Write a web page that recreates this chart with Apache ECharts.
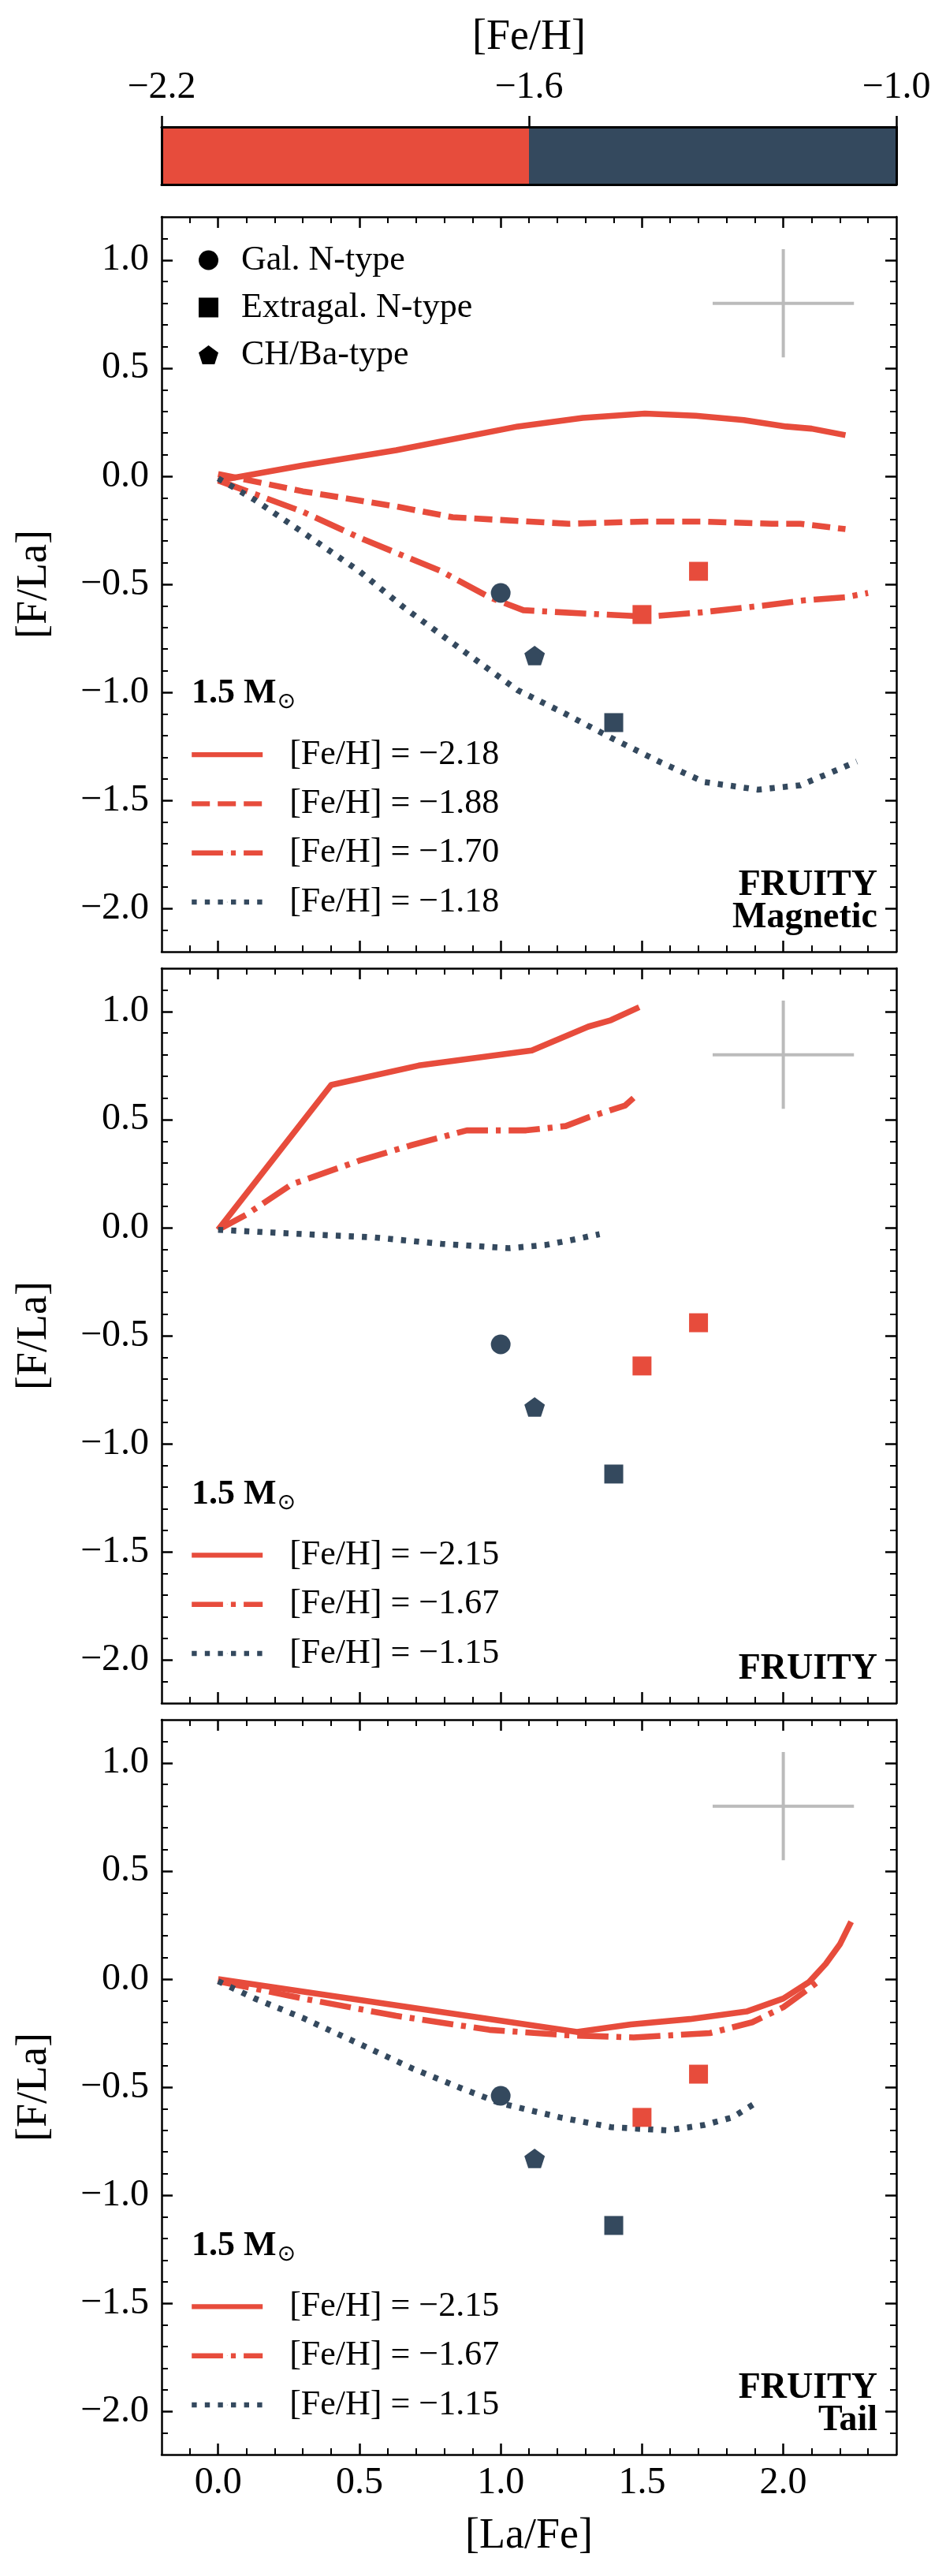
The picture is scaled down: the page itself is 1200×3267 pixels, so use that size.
<!DOCTYPE html>
<html><head><meta charset="utf-8">
<script src="https://cdn.jsdelivr.net/npm/echarts@6/dist/echarts.min.js"></script>
<style>html,body{margin:0;padding:0;background:#fff}#c{width:1200px;height:3267px}</style>
</head><body><div id="c"></div>
<script>
// ================= DATA =================
// colour bar ([Fe/H] bins)
const fehBinEdges = [-2.2, -1.6, -1.0];
const fehBinColors = ['#e74c3c', '#34495e'];
const fehTickLabels = ['\u22122.2', '\u22121.6', '\u22121.0'];

// axis ticks
const xMajorTicks = [0.0, 0.5, 1.0, 1.5, 2.0];
const yMajorTicks = [-2.0, -1.5, -1.0, -0.5, 0.0, 0.5, 1.0];

// Panel 1: FRUITY Magnetic
const mag218X = [0.0, 0.30, 0.63, 1.06, 1.29, 1.51, 1.69, 1.86, 2.01, 2.10, 2.22];
const mag218Y = [-0.02, 0.05, 0.12, 0.23, 0.27, 0.29, 0.28, 0.26, 0.23, 0.22, 0.19];
const mag188X = [0.0, 0.30, 0.63, 0.83, 1.24, 1.51, 1.71, 1.96, 2.06, 2.22];
const mag188Y = [0.01, -0.07, -0.14, -0.19, -0.22, -0.21, -0.21, -0.22, -0.22, -0.245];
const mag170X = [0.0, 0.30, 0.51, 0.79, 0.96, 1.08, 1.29, 1.52, 1.71, 1.92, 2.07, 2.22, 2.30];
const mag170Y = [-0.02, -0.165, -0.29, -0.44, -0.56, -0.62, -0.635, -0.65, -0.63, -0.60, -0.575, -0.56, -0.54];
const mag118X = [0.0, 0.13, 0.30, 0.50, 0.66, 0.88, 1.06, 1.23, 1.39, 1.56, 1.72, 1.91, 2.06, 2.17, 2.26];
const mag118Y = [-0.01, -0.11, -0.26, -0.44, -0.61, -0.82, -0.99, -1.10, -1.21, -1.32, -1.415, -1.45, -1.43, -1.37, -1.32];

// Panel 2: FRUITY
const fru215X = [0.0, 0.40, 0.71, 1.11, 1.31, 1.39, 1.49];
const fru215Y = [-0.01, 0.66, 0.75, 0.82, 0.93, 0.96, 1.02];
const fru167X = [0.0, 0.10, 0.26, 0.50, 0.68, 0.88, 1.09, 1.23, 1.31, 1.44, 1.47];
const fru167Y = [-0.01, 0.06, 0.20, 0.31, 0.38, 0.45, 0.45, 0.47, 0.51, 0.565, 0.60];
const fru115X = [0.0, 0.30, 0.55, 0.79, 1.03, 1.16, 1.26, 1.35];
const fru115Y = [-0.01, -0.03, -0.045, -0.075, -0.095, -0.08, -0.055, -0.03];

// Panel 3: FRUITY Tail
const tail215X = [0.0, 1.27, 1.46, 1.67, 1.87, 2.00, 2.09, 2.15, 2.20, 2.24];
const tail215Y = [0.0, -0.245, -0.21, -0.185, -0.15, -0.09, -0.015, 0.07, 0.16, 0.265];
const tail167X = [0.0, 0.30, 0.63, 0.96, 1.24, 1.47, 1.74, 1.89, 2.00, 2.09, 2.13];
const tail167Y = [-0.01, -0.09, -0.17, -0.235, -0.26, -0.27, -0.25, -0.20, -0.13, -0.045, -0.005];
const tail115X = [0.0, 0.13, 0.30, 0.50, 0.69, 0.86, 1.00, 1.21, 1.39, 1.59, 1.72, 1.82, 1.90];
const tail115Y = [-0.01, -0.09, -0.18, -0.30, -0.415, -0.505, -0.575, -0.64, -0.685, -0.70, -0.675, -0.64, -0.575];

// Observed stars (bin index into fehBinColors)
const galNX = [1.00];  const galNY = [-0.54];  const galNBin = [1];
const extNX = [1.40, 1.50, 1.70]; const extNY = [-1.14, -0.64, -0.44]; const extNBin = [1, 0, 0];
const chBaX = [1.12];  const chBaY = [-0.83];  const chBaBin = [1];

// typical error bar
const errX = [2.0]; const errY = [0.8]; const errDX = [0.25]; const errDY = [0.25];

// labels
const panelTags = ['FRUITY\nMagnetic', 'FRUITY', 'FRUITY\nTail'];
const massLabel = '1.5 M';

// ================= LAYOUT / STYLE =================
const FONT = "'Liberation Serif','DejaVu Serif',serif";
const RED = fehBinColors[0], DARK = fehBinColors[1];
const PL = 205, PW = 932, PH = 932;
const panelTops = [275, 1228, 2181];
const LW = 6.4;        // legend line width
const SLW = 7.6;       // curve line width
const DASH = { solid: 'solid', dashed: [23, 10], dashdot: [39.7, 10, 6.2, 10], dotted: [6.4, 10.2] };

const panelCurves = [
  [
    { name: '[Fe/H] = \u22122.18', x: mag218X, y: mag218Y, color: RED, dash: 'solid' },
    { name: '[Fe/H] = \u22121.88', x: mag188X, y: mag188Y, color: RED, dash: 'dashed' },
    { name: '[Fe/H] = \u22121.70', x: mag170X, y: mag170Y, color: RED, dash: 'dashdot' },
    { name: '[Fe/H] = \u22121.18', x: mag118X, y: mag118Y, color: DARK, dash: 'dotted' }
  ],
  [
    { name: '[Fe/H] = \u22122.15', x: fru215X, y: fru215Y, color: RED, dash: 'solid' },
    { name: '[Fe/H] = \u22121.67', x: fru167X, y: fru167Y, color: RED, dash: 'dashdot' },
    { name: '[Fe/H] = \u22121.15', x: fru115X, y: fru115Y, color: DARK, dash: 'dotted' }
  ],
  [
    { name: '[Fe/H] = \u22122.15', x: tail215X, y: tail215Y, color: RED, dash: 'solid' },
    { name: '[Fe/H] = \u22121.67', x: tail167X, y: tail167Y, color: RED, dash: 'dashdot' },
    { name: '[Fe/H] = \u22121.15', x: tail115X, y: tail115Y, color: DARK, dash: 'dotted' }
  ]
];

const PENTAGON = 'path://M0,-1L0.951,-0.309L0.588,0.809L-0.588,0.809L-0.951,-0.309Z';
const starSets = [
  { name: 'Gal. N-type', x: galNX, y: galNY, bin: galNBin, symbol: 'circle', size: 25, icon: 'circle' },
  { name: 'Extragal. N-type', x: extNX, y: extNY, bin: extNBin, symbol: 'rect', size: 24, icon: 'rect' },
  { name: 'CH/Ba-type', x: chBaX, y: chBaY, bin: chBaBin, symbol: PENTAGON, size: 26, icon: PENTAGON }
];

const xMinorTicks = []; for (let i = -1; i <= 23; i++) if (i % 5 !== 0) xMinorTicks.push(i / 10);
const yMinorTicks = []; for (let i = -21; i <= 11; i++) if (i % 5 !== 0) yMinorTicks.push(i / 10);

const fmt = v => (v < -1e-9 ? '\u2212' : '') + Math.abs(v).toFixed(1);

// text measuring for the subscript placement
const mctx = document.createElement('canvas').getContext('2d');
mctx.font = 'bold 44px ' + FONT;
const massW = mctx.measureText(massLabel).width;

function mkAxis(kind, gi, pos, ticks, len, showLine, labels) {
  const isX = kind === 'x';
  return {
    type: 'value', gridIndex: gi, position: pos, z: 10,
    min: isX ? -0.2 : -2.2, max: isX ? 2.4 : 1.2,
    axisLine: { show: showLine, onZero: false, lineStyle: { color: '#000', width: 2.5 } },
    axisTick: { show: true, inside: true, length: len, customValues: ticks,
      lineStyle: { color: '#000', width: len > 10 ? 2.5 : 2 } },
    axisLabel: labels ? { show: true, customValues: ticks, formatter: fmt, margin: isX ? 12 : 16,
      color: '#000', fontSize: 48, fontFamily: FONT } : { show: false },
    splitLine: { show: false }, minorTick: { show: false }, minorSplitLine: { show: false }
  };
}

const grids = [], xAxes = [], yAxes = [], series = [], legends = [], graphics = [];

panelTops.forEach((top, p) => {
  grids.push({ left: PL, top: top, width: PW, height: PH, outerBoundsMode: 'none', containLabel: false });
  xAxes.push(mkAxis('x', p, 'bottom', xMajorTicks, 14, true, p === 2));
  xAxes.push(mkAxis('x', p, 'bottom', xMinorTicks, 8, false, false));
  xAxes.push(mkAxis('x', p, 'top', xMajorTicks, 14, true, false));
  xAxes.push(mkAxis('x', p, 'top', xMinorTicks, 8, false, false));
  yAxes.push(mkAxis('y', p, 'left', yMajorTicks, 14, true, true));
  yAxes.push(mkAxis('y', p, 'left', yMinorTicks, 8, false, false));
  yAxes.push(mkAxis('y', p, 'right', yMajorTicks, 14, true, false));
  yAxes.push(mkAxis('y', p, 'right', yMinorTicks, 8, false, false));
  const ax = p * 4;

  // model curves
  panelCurves[p].forEach(c => {
    series.push({
      type: 'line', name: c.name, xAxisIndex: ax, yAxisIndex: ax,
      data: c.x.map((v, i) => [v, c.y[i]]),
      symbol: 'none', showSymbol: false, smooth: false, z: 3,
      lineStyle: { color: c.color, width: SLW, type: DASH[c.dash], cap: 'butt', join: 'round' },
      itemStyle: { color: c.color }
    });
  });

  // observed stars
  starSets.forEach(s => {
    series.push({
      type: 'scatter', name: s.name, xAxisIndex: ax, yAxisIndex: ax, z: 6,
      symbol: s.symbol, symbolSize: s.size, symbolKeepAspect: true,
      itemStyle: { color: '#000', opacity: 1 },
      data: s.x.map((v, i) => ({ value: [v, s.y[i]], itemStyle: { color: fehBinColors[s.bin[i]], opacity: 1 } }))
    });
  });

  // typical error cross
  series.push({
    type: 'custom', xAxisIndex: ax, yAxisIndex: ax, z: 2,
    encode: { x: 0, y: 1 },
    data: errX.map((v, i) => [v, errY[i], errDX[i], errDY[i]]),
    renderItem: (params, api) => {
      const x = api.value(0), y = api.value(1), dx = api.value(2), dy = api.value(3);
      const l = api.coord([x - dx, y]), r = api.coord([x + dx, y]);
      const t = api.coord([x, y + dy]), b = api.coord([x, y - dy]);
      const st = { stroke: '#bbbbbb', lineWidth: 4 };
      return { type: 'group', children: [
        { type: 'line', shape: { x1: l[0], y1: l[1], x2: r[0], y2: r[1] }, style: st },
        { type: 'line', shape: { x1: t[0], y1: t[1], x2: b[0], y2: b[1] }, style: st }
      ] };
    }
  });

  // curve legend
  const nRows = panelCurves[p].length;
  const firstRow = top + PH - 63 - (nRows - 1) * 62.3;
  legends.push({
    orient: 'vertical', left: 240, top: firstRow - 22, padding: 0,
    itemWidth: 90, itemHeight: 1, itemGap: 18.3, selectedMode: false,
    lineStyle: { width: LW, cap: 'butt' },
    data: panelCurves[p].map(c => c.name),
    textStyle: { fontSize: 44, fontFamily: FONT, color: '#000', lineHeight: 44, padding: [0, 0, 0, 29] }
  });

  // mass label
  graphics.push({ type: 'text', x: 243, y: firstRow - 77, z: 100,
    style: { text: massLabel, font: 'bold 44px ' + FONT, fill: '#000', verticalAlign: 'middle', align: 'left' } });
  graphics.push({ type: 'text', x: 243 + massW + 1, y: firstRow - 66, z: 100,
    style: { text: '\u2299', font: '28px "DejaVu Sans"', fill: '#000', verticalAlign: 'middle', align: 'left' } });

  // model tag
  const lines = panelTags[p].split('\n');
  lines.forEach((ln, k) => {
    graphics.push({ type: 'text', x: 1113, y: top + PH - 43 - (lines.length - 1 - k) * 41, z: 100,
      style: { text: ln, font: 'bold 46px ' + FONT, fill: '#000', align: 'right', verticalAlign: 'middle' } });
  });

  // y axis title
  graphics.push({ type: 'text', x: 44, y: top + PH / 2, rotation: Math.PI / 2, z: 100,
    style: { text: '[F/La]', font: '54px ' + FONT, fill: '#000', align: 'center', verticalAlign: 'middle' } });
});

// star legend (panel 1)
legends.push({
  orient: 'vertical', left: 252, top: 307, padding: 0,
  itemWidth: 25, itemHeight: 25, itemGap: 14, selectedMode: false,
  data: starSets.map(s => ({ name: s.name, icon: s.icon, itemStyle: { color: '#000', opacity: 1 } })),
  textStyle: { fontSize: 44, fontFamily: FONT, color: '#000', lineHeight: 46, padding: [0, 0, 0, 24] }
});

// ================= COLOUR BAR =================
grids.push({ left: PL, top: 161, width: PW, height: 73, outerBoundsMode: 'none', containLabel: false });
const cbLine = { show: true, onZero: false, lineStyle: { color: '#000', width: 3 } };
xAxes.push({ type: 'value', gridIndex: 3, position: 'top', min: -2.2, max: -1.0, z: 10,
  axisLine: cbLine,
  axisTick: { show: true, inside: false, length: 14, customValues: fehBinEdges, lineStyle: { color: '#000', width: 2.5 } },
  axisLabel: { show: true, customValues: fehBinEdges, margin: 26, color: '#000', fontSize: 48, fontFamily: FONT,
    formatter: v => { let k = 0; fehBinEdges.forEach((e, i) => { if (Math.abs(e - v) < Math.abs(fehBinEdges[k] - v)) k = i; }); return fehTickLabels[k]; } },
  splitLine: { show: false } });
xAxes.push({ type: 'value', gridIndex: 3, position: 'bottom', min: -2.2, max: -1.0, z: 10,
  axisLine: cbLine, axisTick: { show: false }, axisLabel: { show: false }, splitLine: { show: false } });
yAxes.push({ type: 'value', gridIndex: 3, position: 'left', min: 0, max: 1, z: 10,
  axisLine: cbLine, axisTick: { show: false }, axisLabel: { show: false }, splitLine: { show: false } });
yAxes.push({ type: 'value', gridIndex: 3, position: 'right', min: 0, max: 1, z: 10,
  axisLine: cbLine, axisTick: { show: false }, axisLabel: { show: false }, splitLine: { show: false } });

series.push({
  type: 'custom', xAxisIndex: 12, yAxisIndex: 12, z: 1,
  encode: { x: [0, 1] },
  data: fehBinColors.map((c, i) => [fehBinEdges[i], fehBinEdges[i + 1], i]),
  renderItem: (params, api) => {
    const a = api.coord([api.value(0), 0]);
    const b = api.coord([api.value(1), 1]);
    return { type: 'rect', shape: { x: a[0], y: b[1], width: b[0] - a[0], height: a[1] - b[1] },
      style: { fill: fehBinColors[api.value(2)] } };
  }
});

graphics.push({ type: 'text', x: 671, y: 48, z: 100,
  style: { text: '[Fe/H]', font: '54px ' + FONT, fill: '#000', align: 'center', verticalAlign: 'middle' } });
graphics.push({ type: 'text', x: 671, y: 3217, z: 100,
  style: { text: '[La/Fe]', font: '54px ' + FONT, fill: '#000', align: 'center', verticalAlign: 'middle' } });

const chart = echarts.init(document.getElementById('c'), null, { renderer: 'canvas' });
chart.setOption({
  backgroundColor: '#fff',
  animation: false,
  grid: grids, xAxis: xAxes, yAxis: yAxes,
  legend: legends, series: series, graphic: graphics,
  tooltip: { show: false }
});
</script></body></html>
